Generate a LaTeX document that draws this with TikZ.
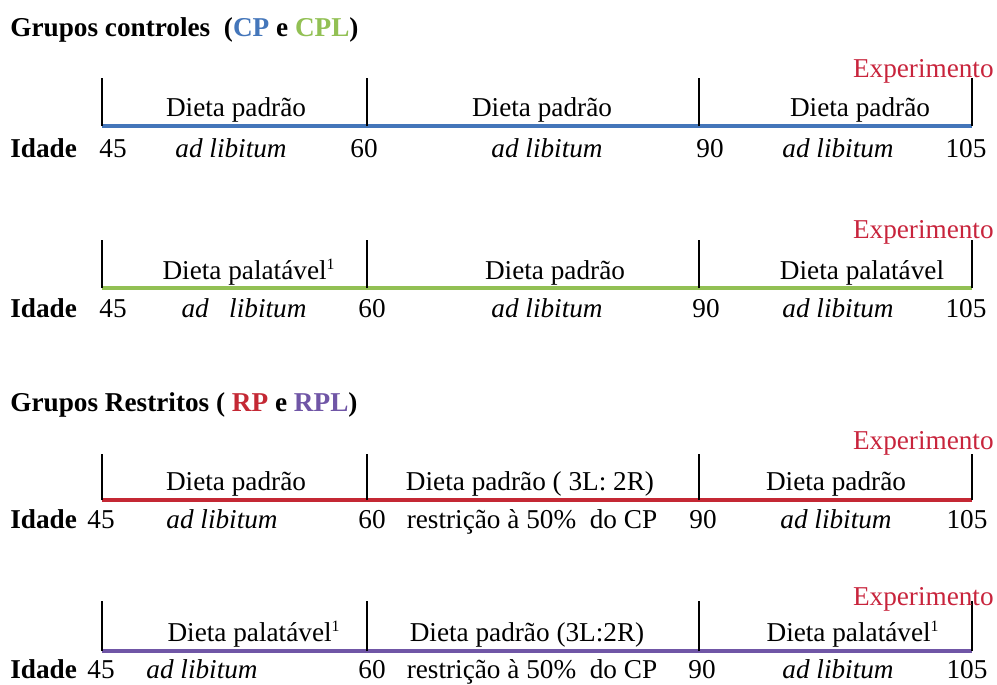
\documentclass[tikz,border=0pt]{standalone}
\usepackage{fontspec}
\setmainfont{Liberation Serif}
\usetikzlibrary{positioning}
\definecolor{cpblue}{RGB}{68,118,186}
\definecolor{cplgreen}{RGB}{146,192,84}
\definecolor{rpred}{RGB}{196,40,52}
\definecolor{rplpurple}{RGB}{112,86,166}
\definecolor{expred}{RGB}{200,36,60}
\tikzset{
  tickline/.style={black, line width=1.6pt},
  timeline/.style={line width=2.7pt},
  txt/.style={anchor=base, inner sep=0pt, font=\fontsize{15.5}{18}\selectfont},
  titletxt/.style={anchor=base west, inner sep=0pt, font=\fontsize{15.5}{18}\selectfont\bfseries},
  expo/.style={txt, anchor=base east, text=expred}
}
\newcommand{\supone}{\textsuperscript{\fontsize{9}{9}\selectfont 1}}

\begin{document}
\begin{tikzpicture}[x=0.02cm, y=-0.02cm]
\useasboundingbox (0,0) rectangle (997,684);

% --- Grupos controles ---
\node[titletxt] (title1) at (10,36) {Grupos controles\ \ (\textcolor{cpblue}{CP} e \textcolor{cplgreen}{CPL})};

% row 1: CP
\coordinate (p1a) at (102,126);
\coordinate (p1b) at (367,126);
\coordinate (p1c) at (699,126);
\coordinate (p1d) at (972,126);
\draw[timeline, cpblue] (p1a) -- (p1d);
\foreach \p in {p1a,p1b,p1c,p1d}
  \draw[tickline] (\p) -- ++(0,-48);
\node[expo] (exp1) at (994,77) {Experimento};
\node[txt] (u1a) at (236,116) {Dieta padrão};
\node[txt] (u1b) at (542,116) {Dieta padrão};
\node[txt] (u1c) at (860,116) {Dieta padrão};
\node[titletxt] (id1) at (10,157) {Idade};
\node[txt] (n1a) at (113,157) {45};
\node[txt, font=\fontsize{15.5}{18}\selectfont\itshape] (l1a) at (231,157) {ad libitum};
\node[txt] (n1b) at (364,157) {60};
\node[txt, font=\fontsize{15.5}{18}\selectfont\itshape] (l1b) at (547,157) {ad libitum};
\node[txt] (n1c) at (710,157) {90};
\node[txt, font=\fontsize{15.5}{18}\selectfont\itshape] (l1c) at (838,157) {ad libitum};
\node[txt] (n1d) at (966,157) {105};

% row 2: CPL
\coordinate (p2a) at (102,288);
\coordinate (p2b) at (367,288);
\coordinate (p2c) at (699,288);
\coordinate (p2d) at (972,288);
\draw[timeline, cplgreen] (p2a) -- (p2d);
\foreach \p in {p2a,p2b,p2c,p2d}
  \draw[tickline] (\p) -- ++(0,-48);
\node[expo] (exp2) at (994,238) {Experimento};
\node[txt] (u2a) at (249,279) {Dieta palatável\supone};
\node[txt] (u2b) at (555,279) {Dieta padrão};
\node[txt] (u2c) at (862,279) {Dieta palatável};
\node[titletxt] (id2) at (10,317) {Idade};
\node[txt] (n2a) at (113,317) {45};
\node[txt, font=\fontsize{15.5}{18}\selectfont\itshape] (l2a) at (244,317) {ad\ \ \ libitum};
\node[txt] (n2b) at (372,317) {60};
\node[txt, font=\fontsize{15.5}{18}\selectfont\itshape] (l2b) at (547,317) {ad libitum};
\node[txt] (n2c) at (706,317) {90};
\node[txt, font=\fontsize{15.5}{18}\selectfont\itshape] (l2c) at (838,317) {ad libitum};
\node[txt] (n2d) at (966,317) {105};

% --- Grupos restritos ---
\node[titletxt] (title2) at (10,411) {Grupos Restritos ( \textcolor{rpred}{RP} e \textcolor{rplpurple}{RPL})};

% row 3: RP
\coordinate (p3a) at (102,500);
\coordinate (p3b) at (367,500);
\coordinate (p3c) at (699,500);
\coordinate (p3d) at (972,500);
\draw[timeline, rpred] (p3a) -- (p3d);
\foreach \p in {p3a,p3b,p3c,p3d}
  \draw[tickline] (\p) -- ++(0,-46);
\node[expo] (exp3) at (994,449) {Experimento};
\node[txt] (u3a) at (236,490) {Dieta padrão};
\node[txt] (u3b) at (530,490) {Dieta padrão ( 3L: 2R)};
\node[txt] (u3c) at (836,490) {Dieta padrão};
\node[titletxt] (id3) at (10,528) {Idade};
\node[txt] (n3a) at (101,528) {45};
\node[txt, font=\fontsize{15.5}{18}\selectfont\itshape] (l3a) at (222,528) {ad libitum};
\node[txt] (n3b) at (372,528) {60};
\node[txt] (r3) at (532,528) {restrição à 50\%\ \ do CP};
\node[txt] (n3c) at (703,528) {90};
\node[txt, font=\fontsize{15.5}{18}\selectfont\itshape] (l3c) at (836,528) {ad libitum};
\node[txt] (n3d) at (967,528) {105};

% row 4: RPL
\coordinate (p4a) at (102,651);
\coordinate (p4b) at (367,651);
\coordinate (p4c) at (699,651);
\coordinate (p4d) at (972,651);
\draw[timeline, rplpurple] (p4a) -- (p4d);
\foreach \p in {p4a,p4b,p4c,p4d}
  \draw[tickline] (\p) -- ++(0,-50);
\node[expo] (exp4) at (994,605) {Experimento};
\node[txt] (u4a) at (254,641) {Dieta palatável\supone};
\node[txt] (u4b) at (527,641) {Dieta padrão (3L:2R)};
\node[txt] (u4c) at (853,641) {Dieta palatável\supone};
\node[titletxt] (id4) at (10,678) {Idade};
\node[txt] (n4a) at (101,678) {45};
\node[txt, font=\fontsize{15.5}{18}\selectfont\itshape] (l4a) at (202,678) {ad libitum};
\node[txt] (n4b) at (372,678) {60};
\node[txt] (r4) at (532,678) {restrição à 50\%\ \ do CP};
\node[txt] (n4c) at (702,678) {90};
\node[txt, font=\fontsize{15.5}{18}\selectfont\itshape] (l4c) at (838,678) {ad libitum};
\node[txt] (n4d) at (967,678) {105};

\end{tikzpicture}
\end{document}
